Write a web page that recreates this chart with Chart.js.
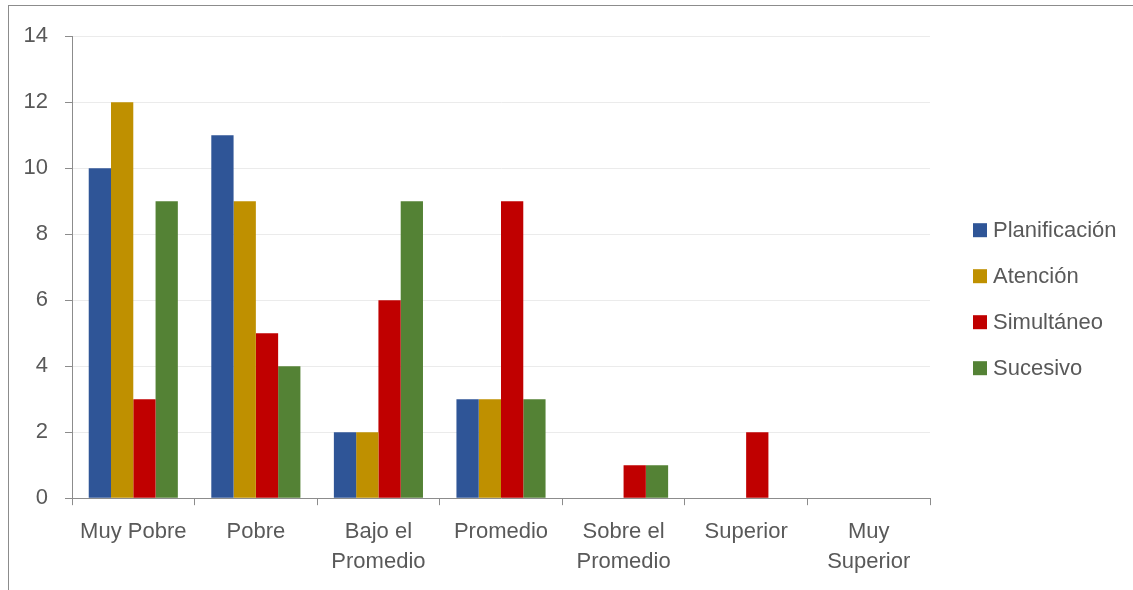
<!DOCTYPE html>
<html>
<head>
<meta charset="utf-8">
<script src="https://cdn.jsdelivr.net/npm/chart.js@4/dist/chart.umd.min.js"></script>
<style>
  html, body { margin: 0; padding: 0; background: #fff; overflow: hidden; }
  #frame { position: absolute; left: 8px; top: 5px; width: 1200px; height: 700px; border: 1px solid #8c8c8c; }
  #wrap { position: absolute; left: 9px; top: 6px; width: 1124px; height: 600px; }
</style>
</head>
<body>
<div id="frame"></div>
<div id="wrap"><canvas id="chart"></canvas></div>
<script>
const categories = ['Muy Pobre', 'Pobre', ['Bajo el', 'Promedio'], 'Promedio', ['Sobre el', 'Promedio'], 'Superior', ['Muy', 'Superior']];
const seriesNames = ['Planificación', 'Atención', 'Simultáneo', 'Sucesivo'];
const planificacion = [10, 11, 2, 3, 0, 0, 0];
const atencion = [12, 9, 2, 3, 0, 0, 0];
const simultaneo = [3, 5, 6, 9, 1, 2, 0];
const sucesivo = [9, 4, 9, 3, 1, 0, 0];
const yTicks = [0, 2, 4, 6, 8, 10, 12, 14];

const colors = ['#2f5597', '#bf9000', '#c00000', '#548235'];
const textColor = '#595959';
const axisColor = '#8c8c8c';
const fontFamily = "'Liberation Sans', Arial, sans-serif";
const fontSize = 22;

// legend drawn at the right side, next to the plot
const sideLegend = {
    id: 'sideLegend',
    afterDraw(chart) {
        const ctx = chart.ctx;
        const area = chart.chartArea;
        const x = area.right + 43;
        const y0 = area.top + 194;
        ctx.save();
        ctx.font = fontSize + 'px ' + fontFamily;
        ctx.textBaseline = 'middle';
        ctx.textAlign = 'left';
        chart.data.datasets.forEach((ds, i) => {
            const y = y0 + i * 46;
            ctx.fillStyle = ds.backgroundColor;
            ctx.fillRect(x, y - 7, 14, 14);
            ctx.fillStyle = textColor;
            ctx.fillText(ds.label, x + 20, y + 1);
        });
        ctx.restore();
    }
};

const seriesData = [planificacion, atencion, simultaneo, sucesivo];

new Chart(document.getElementById('chart').getContext('2d'), {
    type: 'bar',
    data: {
        labels: categories,
        datasets: seriesNames.map((name, i) => ({
            label: name,
            data: seriesData[i],
            backgroundColor: colors[i],
            borderWidth: 0,
            barPercentage: 1,
            categoryPercentage: 0.727
        }))
    },
    options: {
        responsive: true,
        maintainAspectRatio: false,
        animation: false,
        layout: { padding: { left: 14, top: 24, right: 203, bottom: 17 } },
        plugins: {
            legend: { display: false },
            tooltip: { enabled: false }
        },
        scales: {
            x: {
                offset: true,
                afterFit: axis => { axis.paddingLeft = 0; axis.paddingRight = 0; },
                grid: { display: true, drawOnChartArea: false, drawTicks: true, tickLength: 7, tickColor: axisColor, offset: true },
                border: { color: axisColor, width: 1 },
                ticks: { color: textColor, padding: 12, maxRotation: 0, autoSkip: false, font: { family: fontFamily, size: fontSize, lineHeight: 1.36 } }
            },
            y: {
                min: 0,
                max: 14,
                afterBuildTicks: axis => { axis.ticks = yTicks.map(v => ({ value: v })); },
                afterFit: axis => { axis.width = 49; },
                grid: { color: '#ebebeb', tickLength: 7, tickColor: axisColor },
                border: { color: axisColor, width: 1 },
                ticks: { color: textColor, padding: 17, font: { family: fontFamily, size: fontSize } }
            }
        }
    },
    plugins: [sideLegend]
});
</script>
</body>
</html>
